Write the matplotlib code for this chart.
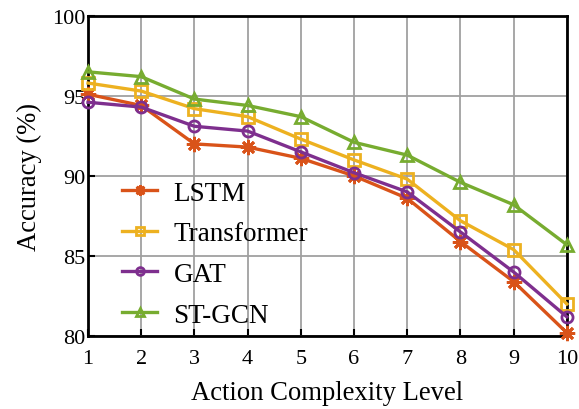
import matplotlib
matplotlib.use("Agg")
import matplotlib.pyplot as plt

plt.rcParams["font.family"] = ["Liberation Serif", "DejaVu Serif"]

levels = [1, 2, 3, 4, 5, 6, 7, 8, 9, 10]
lstm = [95.1, 94.4, 92.0, 91.8, 91.1, 90.0, 88.6, 85.9, 83.4, 80.2]
transformer = [95.8, 95.3, 94.2, 93.7, 92.3, 91.0, 89.8, 87.2, 85.4, 82.0]
gat = [94.6, 94.3, 93.1, 92.8, 91.5, 90.2, 89.0, 86.5, 84.0, 81.2]
stgcn = [96.5, 96.2, 94.8, 94.4, 93.7, 92.1, 91.3, 89.6, 88.2, 85.7]

series = [
    ("LSTM", lstm, "#D95319", (8, 2, 0), 11),
    ("Transformer", transformer, "#EDB120", "s", 8),
    ("GAT", gat, "#7E2F8E", "o", 8),
    ("ST-GCN", stgcn, "#77AC30", "^", 9),
]

fig = plt.figure(figsize=(5.79, 4.10), dpi=100)
ax = fig.add_axes([0.152, 0.178, 0.827, 0.781])

for name, vals, color, mk, ms in series:
    ax.plot(levels, vals, color=color, linewidth=2.4, marker=mk,
            markersize=ms, markerfacecolor="none",
            markeredgewidth=2.0, label=name, clip_on=False, zorder=3)

ax.set_xlim(1, 10)
ax.set_ylim(80, 100)
ax.set_xticks(levels)
ax.set_yticks([80, 85, 90, 95, 100])
ax.grid(True, color="#a0a0a0", linewidth=1.3)
ax.tick_params(direction="in", labelsize=16, length=5, width=1.5)
ax.tick_params(axis="x", pad=9)
ax.tick_params(axis="y", pad=2)
for s in ax.spines.values():
    s.set_linewidth(2)
ax.set_xlabel("Action Complexity Level", fontsize=19.2, labelpad=9)
ax.set_ylabel("Accuracy (%)", fontsize=19.2, labelpad=7)

ax.legend(loc="lower left", bbox_to_anchor=(0.02, -0.05), frameon=False,
          fontsize=19.5, handlelength=1.3, labelspacing=0.58, handletextpad=0.6,
          markerscale=0.7)

fig.savefig("out.png", dpi=100)
